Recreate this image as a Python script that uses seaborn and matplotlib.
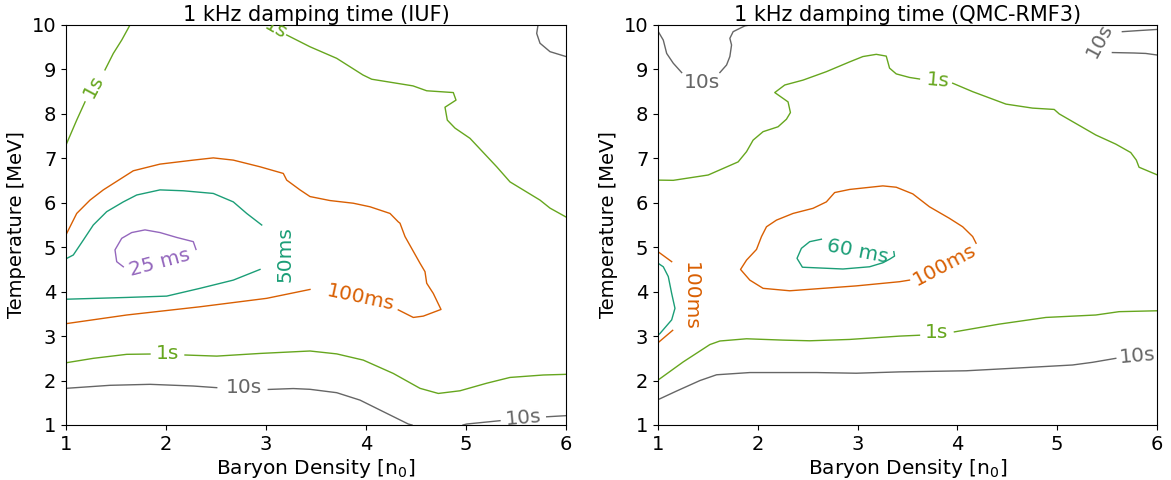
import numpy as np
import pandas as pd
import matplotlib
matplotlib.use("Agg")
import matplotlib.pyplot as plt
import seaborn as sns

# ---------------- colours per contour level ----------------
C_10S = "#666666"
C_1S = "#66a61e"
C_100MS = "#d95f02"
C_50MS = "#1b9e77"
C_25MS = "#9467bd"

# ---------------- Left panel (IUF) contour traces ----------------
iuf_1s_upper_x = [1.0, 1.107, 1.19]
iuf_1s_upper_y = [7.30, 7.86, 8.27]
iuf_1s_upper2_x = [1.39, 1.473, 1.557, 1.64]
iuf_1s_upper2_y = [8.99, 9.36, 9.66, 10.0]

iuf_1s_top_x = [3.207, 3.44, 3.707, 3.97, 4.057, 4.47, 4.607, 4.873, 4.90, 4.79,
                4.813, 4.89, 5.04, 5.307, 5.44, 5.74, 5.84, 6.0]
iuf_1s_top_y = [9.775, 9.51, 9.25, 8.875, 8.78, 8.63, 8.52, 8.48, 8.31, 8.15,
                7.86, 7.68, 7.45, 6.81, 6.47, 6.06, 5.88, 5.68]

iuf_10s_corner_x = [5.72, 5.707, 5.74, 5.84, 6.0]
iuf_10s_corner_y = [10.0, 9.81, 9.59, 9.40, 9.29]

iuf_100ms_a_x = [1.0, 1.607, 2.34, 3.007, 3.44]
iuf_100ms_a_y = [3.28, 3.475, 3.66, 3.85, 4.05]
iuf_100ms_b_x = [4.323, 4.473, 4.573, 4.75, 4.673, 4.607, 4.59, 4.54, 4.39, 4.34,
                 4.323, 4.24, 4.04, 3.873, 3.64, 3.44, 3.34, 3.207, 3.173, 2.94,
                 2.673, 2.473, 2.273, 1.94, 1.673, 1.373, 1.24, 1.107, 1.0]
iuf_100ms_b_y = [3.59, 3.42, 3.45, 3.60, 3.96, 4.19, 4.45, 4.64, 5.24, 5.54,
                 5.57, 5.76, 5.91, 5.99, 6.05, 6.14, 6.29, 6.51, 6.66, 6.81,
                 6.96, 7.01, 6.96, 6.87, 6.72, 6.29, 6.06, 5.76, 5.28]

iuf_50ms_top_x = [1.0, 1.073, 1.173, 1.273, 1.407, 1.573, 1.707, 1.94, 2.173,
                  2.473, 2.673, 2.807, 2.957]
iuf_50ms_top_y = [4.74, 4.825, 5.16, 5.50, 5.80, 6.02, 6.175, 6.29, 6.27,
                  6.21, 6.02, 5.76, 5.50]
iuf_50ms_bot_x = [2.94, 2.673, 2.34, 2.007, 1.607, 1.0]
iuf_50ms_bot_y = [4.50, 4.26, 4.075, 3.90, 3.87, 3.83]

iuf_25ms_x = [1.573, 1.507, 1.49, 1.557, 1.657, 1.79, 1.94, 2.107, 2.273, 2.30]
iuf_25ms_y = [4.56, 4.675, 4.94, 5.20, 5.33, 5.39, 5.33, 5.22, 5.125, 4.95]

iuf_1s_low_a_x = [1.0, 1.273, 1.607, 1.84]
iuf_1s_low_a_y = [2.40, 2.50, 2.59, 2.597]
iuf_1s_low_b_x = [2.19, 2.507, 2.94, 3.44, 3.707, 3.973, 4.273, 4.54, 4.723,
                  4.94, 5.207, 5.44, 5.773, 6.0]
iuf_1s_low_b_y = [2.575, 2.55, 2.61, 2.665, 2.60, 2.46, 2.16, 1.825, 1.71,
                  1.77, 1.94, 2.07, 2.125, 2.14]

iuf_10s_low_a_x = [1.0, 1.44, 1.84, 2.273, 2.507]
iuf_10s_low_a_y = [1.825, 1.893, 1.915, 1.877, 1.84]
iuf_10s_low_b_x = [3.023, 3.273, 3.44, 3.707, 3.94, 4.173, 4.423, 4.46]
iuf_10s_low_b_y = [1.80, 1.82, 1.803, 1.727, 1.56, 1.30, 1.022, 1.0]

iuf_10s_br_a_x = [4.97, 5.007, 5.34]
iuf_10s_br_a_y = [1.0, 1.022, 1.097]
iuf_10s_br_b_x = [5.807, 6.0]
iuf_10s_br_b_y = [1.185, 1.21]

# ---------------- Right panel (QMC-RMF3) contour traces ----------------
qmc_10s_ul_a_x = [1.0, 1.003, 1.053, 1.087, 1.153, 1.237]
qmc_10s_ul_a_y = [9.97, 9.85, 9.66, 9.36, 9.14, 8.93]
qmc_10s_ul_b_x = [1.62, 1.687, 1.72, 1.737, 1.72, 1.753, 1.87, 1.92]
qmc_10s_ul_b_y = [8.93, 9.10, 9.29, 9.55, 9.70, 9.85, 9.98, 10.0]

qmc_1s_up_a_x = [1.0, 1.153, 1.503, 1.803, 1.887, 1.953, 2.053, 2.203, 2.287,
                 2.327, 2.303, 2.17, 2.27, 2.453, 2.687, 2.92, 3.053, 3.187,
                 3.287, 3.303, 3.32, 3.387, 3.52, 3.62]
qmc_1s_up_a_y = [6.51, 6.505, 6.625, 6.92, 7.15, 7.41, 7.60, 7.71, 7.88,
                 8.03, 8.27, 8.48, 8.65, 8.76, 8.95, 9.17, 9.29, 9.34,
                 9.30, 9.17, 9.03, 8.90, 8.82, 8.785]
qmc_1s_up_b_x = [3.953, 4.153, 4.487, 4.753, 4.97, 5.02, 5.387, 5.587, 5.737,
                 5.793, 5.82, 6.0]
qmc_1s_up_b_y = [8.69, 8.50, 8.22, 8.13, 8.10, 8.00, 7.525, 7.32, 7.13,
                 6.96, 6.80, 6.63]

qmc_10s_ur_a_x = [5.653, 5.82, 6.0]
qmc_10s_ur_a_y = [9.85, 9.875, 9.90]
qmc_10s_ur_b_x = [5.553, 5.77, 5.887, 6.0]
qmc_10s_ur_b_y = [9.38, 9.37, 9.36, 9.325]

qmc_100ms_x = [3.52, 3.42, 2.987, 2.653, 2.32, 2.053, 1.92, 1.827, 1.887, 1.987,
               2.037, 2.087, 2.187, 2.353, 2.553, 2.687, 2.77, 2.92, 3.253,
               3.387, 3.553, 3.72, 3.92, 4.053, 4.153, 4.187]
qmc_100ms_y = [4.26, 4.224, 4.13, 4.075, 4.02, 4.075, 4.26, 4.50, 4.71, 4.95,
               5.24, 5.46, 5.61, 5.76, 5.875, 6.02, 6.23, 6.30, 6.38,
               6.35, 6.20, 5.91, 5.65, 5.46, 5.24, 5.09]

qmc_60ms_x = [2.637, 2.52, 2.437, 2.393, 2.447, 2.853, 3.12, 3.253, 3.32, 3.37, 3.363]
qmc_60ms_y = [5.18, 5.125, 4.975, 4.75, 4.55, 4.51, 4.56, 4.65, 4.73, 4.80, 4.90]

qmc_100ms_edge_a_x = [1.0, 1.137]
qmc_100ms_edge_a_y = [4.90, 4.675]
qmc_100ms_edge_b_x = [1.0, 1.147]
qmc_100ms_edge_b_y = [2.85, 3.13]

qmc_50ms_edge_x = [1.0, 1.053, 1.103, 1.137, 1.17, 1.137, 1.02, 1.0]
qmc_50ms_edge_y = [4.64, 4.56, 4.34, 3.96, 3.625, 3.365, 3.06, 3.02]

qmc_1s_low_a_x = [1.0, 1.253, 1.52, 1.62, 1.887, 2.253, 2.52, 2.92, 3.42, 3.62]
qmc_1s_low_a_y = [2.01, 2.42, 2.81, 2.89, 2.94, 2.91, 2.895, 2.925, 3.0, 3.02]
qmc_1s_low_b_x = [3.97, 4.42, 4.887, 5.387, 5.62, 6.0]
qmc_1s_low_b_y = [3.095, 3.27, 3.42, 3.475, 3.55, 3.57]

qmc_10s_low_x = [1.0, 1.187, 1.42, 1.587, 1.92, 2.587, 2.987, 3.42, 4.087,
                 4.587, 5.153, 5.353, 5.587]
qmc_10s_low_y = [1.57, 1.765, 2.0, 2.13, 2.18, 2.18, 2.165, 2.195, 2.22,
                 2.28, 2.35, 2.41, 2.50]

# ---------------- inline contour labels ----------------
iuf_label_text = ["1s", "1s", "100ms", "50ms", "25 ms", "1s", "10s", "10s"]
iuf_label_x = [1.27, 3.10, 3.95, 3.19, 1.94, 2.013, 2.78, 5.573]
iuf_label_y = [8.62, 9.90, 3.87, 4.85, 4.65, 2.61, 1.85, 1.17]
iuf_label_rot = [62, -30, -12, 90, 15, 0, 0, 5]
iuf_label_col = [C_1S, C_1S, C_100MS, C_50MS, C_25MS, C_1S, C_10S, C_10S]

qmc_label_text = ["10s", "1s", "10s", "100ms", "60 ms", "100ms", "1s", "10s"]
qmc_label_x = [1.437, 3.80, 5.42, 3.87, 3.0, 1.32, 3.793, 5.80]
qmc_label_y = [8.70, 8.76, 9.66, 4.60, 4.90, 3.89, 3.08, 2.55]
qmc_label_rot = [0, -5, 62, 28, -11, 270, 0, 5]
qmc_label_col = [C_10S, C_1S, C_10S, C_100MS, C_50MS, C_100MS, C_1S, C_10S]

titles = ["1 kHz damping time (IUF)", "1 kHz damping time (QMC-RMF3)"]
xlabel = "Baryon Density [n$_0$]"
ylabel = "Temperature [MeV]"

iuf_segments = [
    (iuf_1s_upper_x, iuf_1s_upper_y, C_1S),
    (iuf_1s_upper2_x, iuf_1s_upper2_y, C_1S),
    (iuf_1s_top_x, iuf_1s_top_y, C_1S),
    (iuf_10s_corner_x, iuf_10s_corner_y, C_10S),
    (iuf_100ms_a_x, iuf_100ms_a_y, C_100MS),
    (iuf_100ms_b_x, iuf_100ms_b_y, C_100MS),
    (iuf_50ms_top_x, iuf_50ms_top_y, C_50MS),
    (iuf_50ms_bot_x, iuf_50ms_bot_y, C_50MS),
    (iuf_25ms_x, iuf_25ms_y, C_25MS),
    (iuf_1s_low_a_x, iuf_1s_low_a_y, C_1S),
    (iuf_1s_low_b_x, iuf_1s_low_b_y, C_1S),
    (iuf_10s_low_a_x, iuf_10s_low_a_y, C_10S),
    (iuf_10s_low_b_x, iuf_10s_low_b_y, C_10S),
    (iuf_10s_br_a_x, iuf_10s_br_a_y, C_10S),
    (iuf_10s_br_b_x, iuf_10s_br_b_y, C_10S),
]
qmc_segments = [
    (qmc_10s_ul_a_x, qmc_10s_ul_a_y, C_10S),
    (qmc_10s_ul_b_x, qmc_10s_ul_b_y, C_10S),
    (qmc_1s_up_a_x, qmc_1s_up_a_y, C_1S),
    (qmc_1s_up_b_x, qmc_1s_up_b_y, C_1S),
    (qmc_10s_ur_a_x, qmc_10s_ur_a_y, C_10S),
    (qmc_10s_ur_b_x, qmc_10s_ur_b_y, C_10S),
    (qmc_100ms_x, qmc_100ms_y, C_100MS),
    (qmc_60ms_x, qmc_60ms_y, C_50MS),
    (qmc_100ms_edge_a_x, qmc_100ms_edge_a_y, C_100MS),
    (qmc_100ms_edge_b_x, qmc_100ms_edge_b_y, C_100MS),
    (qmc_50ms_edge_x, qmc_50ms_edge_y, C_50MS),
    (qmc_1s_low_a_x, qmc_1s_low_a_y, C_1S),
    (qmc_1s_low_b_x, qmc_1s_low_b_y, C_1S),
    (qmc_10s_low_x, qmc_10s_low_y, C_10S),
]

plt.rcParams['font.family'] = ['DejaVu Sans']
fig = plt.figure(figsize=(11.71, 4.80), dpi=100)
ax1 = fig.add_axes([66 / 1171, 1 - 425 / 480, 500 / 1171, 400 / 480])
ax2 = fig.add_axes([658 / 1171, 1 - 425 / 480, 499 / 1171, 400 / 480])

panels = [
    (ax1, iuf_segments, iuf_label_text, iuf_label_x, iuf_label_y, iuf_label_rot, iuf_label_col),
    (ax2, qmc_segments, qmc_label_text, qmc_label_x, qmc_label_y, qmc_label_rot, qmc_label_col),
]

for i, (ax, segs, lt, lx, ly, lr, lc) in enumerate(panels):
    for j, (xs, ys, col) in enumerate(segs):
        df = pd.DataFrame({"x": xs, "y": ys})
        sns.lineplot(data=df, x="x", y="y", ax=ax, sort=False, estimator=None,
                     color=col, linewidth=1.0)
    for t, x, y, r, c in zip(lt, lx, ly, lr, lc):
        ax.text(x, y, t, color=c, fontsize=14.5, rotation=r, ha="center", va="center",
                rotation_mode="anchor", clip_on=True)
    ax.set_xlim(1, 6)
    ax.set_ylim(1, 10)
    ax.set_xticks([1, 2, 3, 4, 5, 6])
    ax.set_yticks(list(range(1, 11)))
    ax.tick_params(labelsize=14)
    ax.set_title(titles[i], fontsize=15, pad=3)
    ax.set_xlabel(xlabel, fontsize=14.5, labelpad=2)
    ax.set_ylabel(ylabel, fontsize=14, labelpad=4)

fig.savefig("out.png", dpi=100)
